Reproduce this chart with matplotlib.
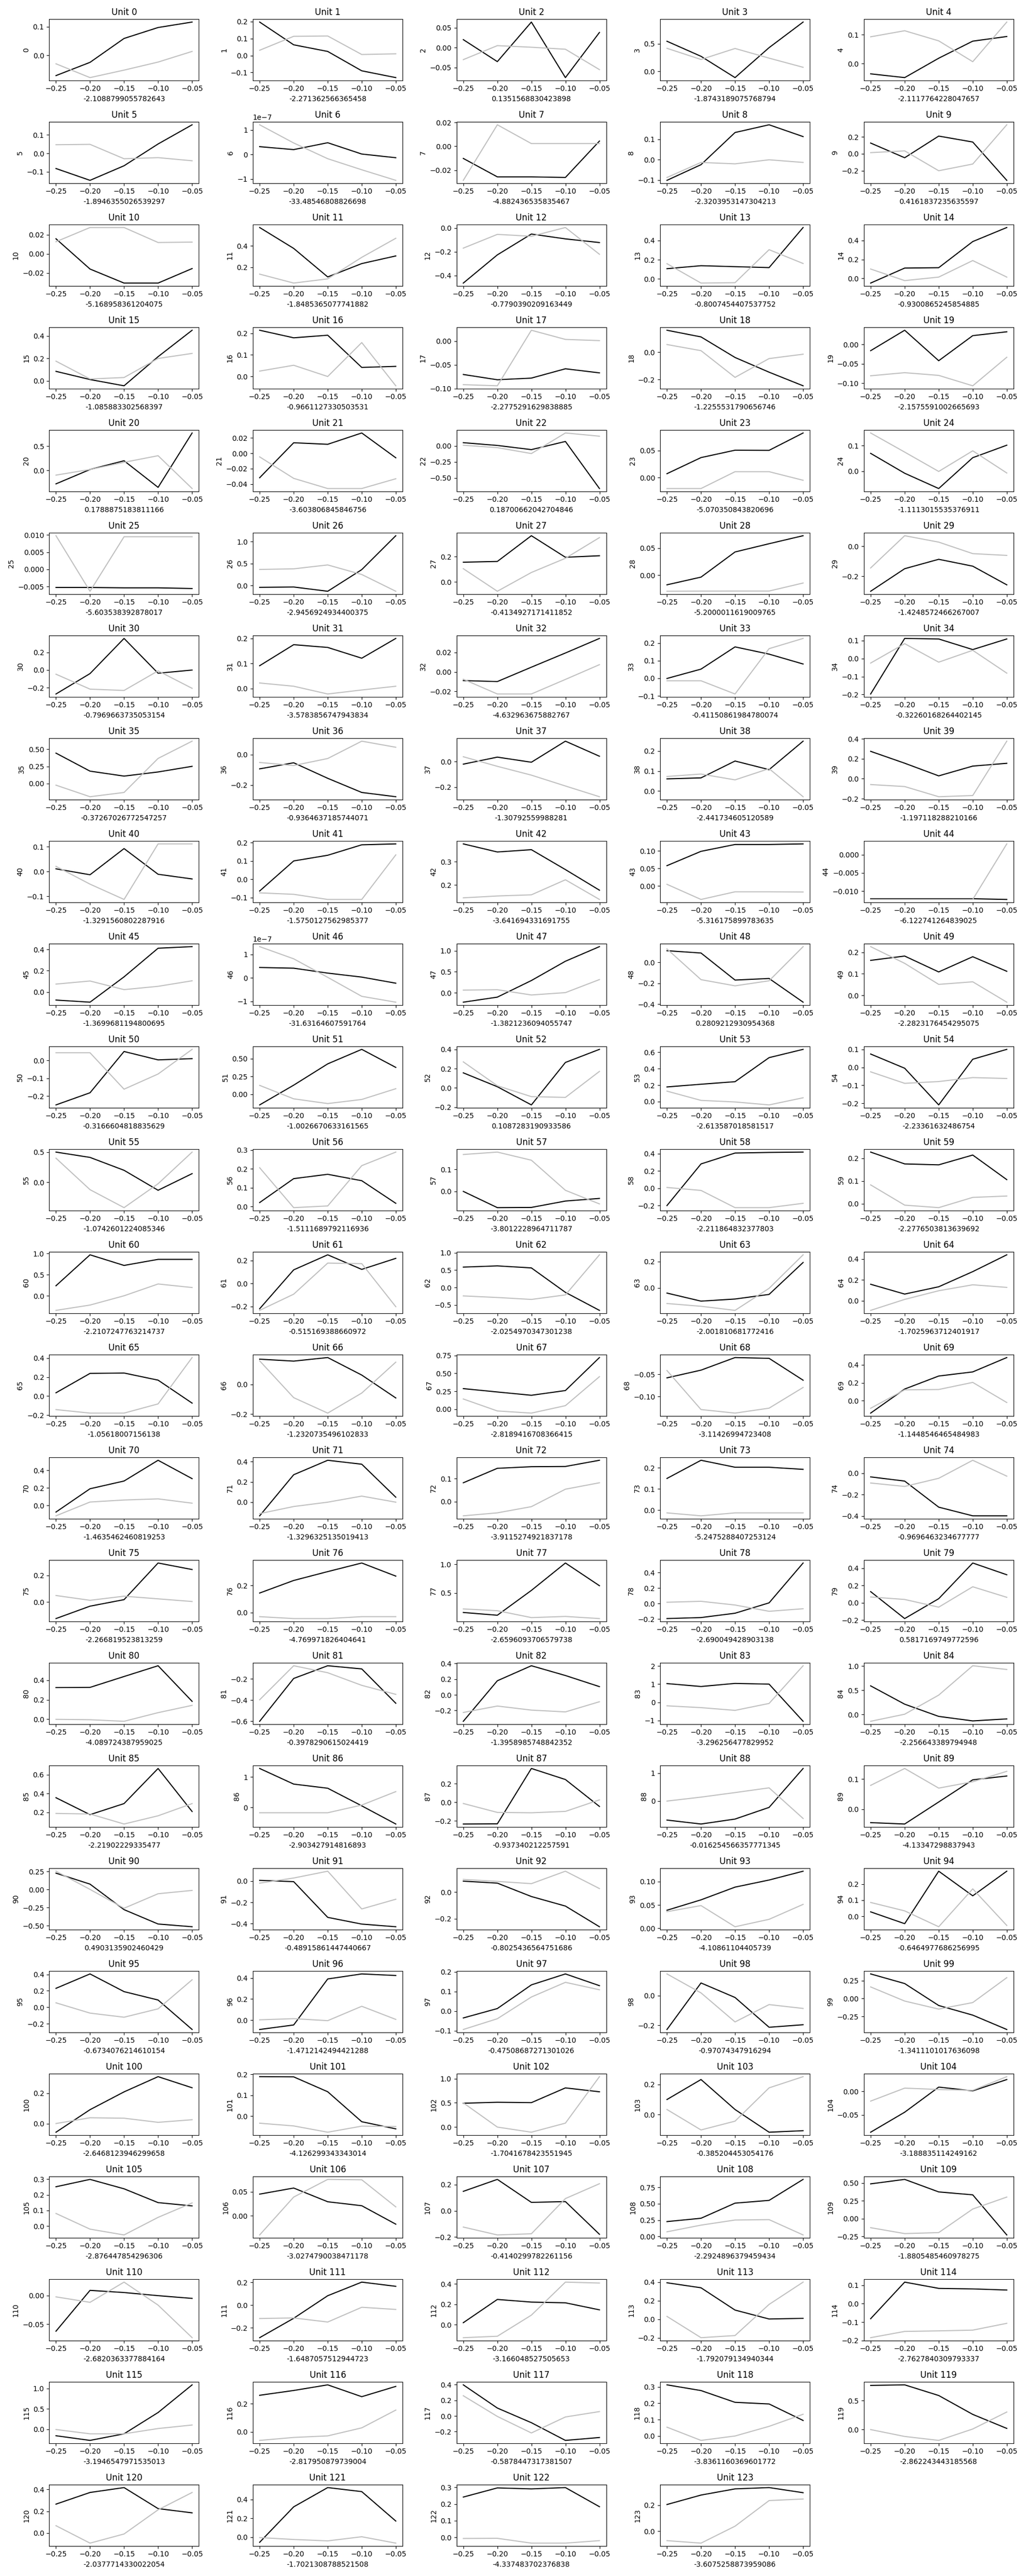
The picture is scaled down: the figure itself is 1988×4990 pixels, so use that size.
import numpy as np
import matplotlib
matplotlib.use('Agg')
import matplotlib.pyplot as plt

x = [-0.25, -0.2, -0.15, -0.1, -0.05]

black = [
    [-0.070, -0.024, 0.059, 0.097, 0.116],
    [0.197, 0.063, 0.024, -0.090, -0.130],
    [0.020, -0.035, 0.064, -0.075, 0.038],
    [0.546, 0.273, -0.113, 0.430, 0.894],
    [-0.035, -0.048, 0.019, 0.078, 0.094],
    [-0.082, -0.146, -0.067, 0.051, 0.155],
    [0.32e-7, 0.20e-7, 0.48e-7, 0.02e-7, -0.13e-7],
    [-0.0101, -0.0255, -0.0255, -0.0260, 0.0044],
    [-0.102, -0.025, 0.133, 0.171, 0.113],
    [0.127, -0.046, 0.209, 0.139, -0.312],
    [0.0157, -0.0160, -0.0307, -0.0307, -0.0155],
    [0.570, 0.376, 0.111, 0.235, 0.306],
    [-0.464, -0.226, -0.050, -0.091, -0.122],
    [0.107, 0.138, 0.128, 0.118, 0.536],
    [-0.049, 0.109, 0.113, 0.388, 0.536],
    [0.085, 0.012, -0.044, 0.216, 0.452],
    [0.214, 0.179, 0.191, 0.042, 0.047],
    [-0.0704, -0.0815, -0.0780, -0.0584, -0.0670],
    [0.162, 0.113, -0.038, -0.146, -0.246],
    [-0.016, 0.037, -0.042, 0.023, 0.033],
    [-0.276, 0.020, 0.200, -0.348, 0.772],
    [-0.0317, 0.0137, 0.0117, 0.0264, -0.0058],
    [0.049, 0.006, -0.059, 0.068, -0.664],
    [0.0072, 0.0370, 0.0507, 0.0504, 0.0826],
    [0.070, -0.008, -0.068, 0.053, 0.102],
    [-0.0053, -0.0053, -0.0054, -0.0054, -0.0056],
    [-0.044, -0.036, -0.133, 0.360, 1.133],
    [0.155, 0.161, 0.364, 0.194, 0.206],
    [-0.0178, -0.0036, 0.0428, 0.0580, 0.0728],
    [-0.301, -0.150, -0.087, -0.133, -0.258],
    [-0.271, -0.040, 0.358, -0.036, 0.000],
    [0.091, 0.175, 0.164, 0.121, 0.200],
    [-0.0089, -0.0099, 0.0049, 0.0195, 0.0345],
    [-0.001, 0.052, 0.178, 0.137, 0.081],
    [-0.197, 0.112, 0.109, 0.050, 0.109],
    [0.443, 0.181, 0.109, 0.169, 0.251],
    [-0.094, -0.054, -0.156, -0.249, -0.277],
    [-0.020, 0.035, -0.005, 0.160, 0.042],
    [0.061, 0.066, 0.150, 0.107, 0.249],
    [0.274, 0.155, 0.028, 0.126, 0.154],
    [0.011, -0.013, 0.093, -0.011, -0.030],
    [-0.064, 0.100, 0.131, 0.188, 0.193],
    [0.377, 0.342, 0.352, 0.266, 0.177],
    [0.0579, 0.0989, 0.1185, 0.1185, 0.1202],
    [-0.0121, -0.0121, -0.0121, -0.0121, -0.0123],
    [-0.076, -0.096, 0.142, 0.411, 0.426],
    [0.44e-7, 0.41e-7, 0.20e-7, 0.03e-7, -0.23e-7],
    [-0.222, -0.102, 0.292, 0.750, 1.097],
    [0.111, 0.089, -0.169, -0.154, -0.380],
    [0.163, 0.183, 0.109, 0.180, 0.112],
    [-0.249, -0.181, 0.050, 0.003, 0.010],
    [-0.152, 0.127, 0.428, 0.633, 0.378],
    [0.156, 0.012, -0.177, 0.264, 0.400],
    [0.178, 0.211, 0.242, 0.535, 0.636],
    [0.074, -0.005, -0.209, 0.045, 0.100],
    [0.500, 0.412, 0.199, -0.131, 0.144],
    [0.021, 0.148, 0.171, 0.137, 0.017],
    [0.000, -0.074, -0.073, -0.044, -0.032],
    [-0.200, 0.281, 0.407, 0.414, 0.418],
    [0.227, 0.175, 0.171, 0.214, 0.106],
    [0.238, 0.972, 0.720, 0.864, 0.864],
    [-0.221, 0.118, 0.249, 0.122, 0.218],
    [0.585, 0.620, 0.562, -0.140, -0.657],
    [-0.039, -0.100, -0.084, -0.049, 0.193],
    [0.158, 0.064, 0.134, 0.279, 0.440],
    [0.035, 0.239, 0.243, 0.168, -0.074],
    [0.169, 0.156, 0.180, 0.062, -0.092],
    [0.287, 0.240, 0.194, 0.260, 0.721],
    [-0.0580, -0.0407, -0.0124, -0.0142, -0.0633],
    [-0.138, 0.130, 0.275, 0.321, 0.481],
    [-0.074, 0.191, 0.279, 0.515, 0.306],
    [-0.135, 0.271, 0.414, 0.375, 0.049],
    [0.082, 0.145, 0.152, 0.153, 0.180],
    [0.150, 0.236, 0.203, 0.203, 0.193],
    [-0.035, -0.074, -0.317, -0.398, -0.398],
    [-0.124, -0.031, 0.018, 0.293, 0.244],
    [0.144, 0.236, 0.301, 0.364, 0.268],
    [0.158, 0.110, 0.543, 1.021, 0.625],
    [-0.193, -0.180, -0.124, 0.010, 0.525],
    [0.130, -0.182, 0.048, 0.461, 0.325],
    [0.325, 0.327, 0.439, 0.550, 0.183],
    [-0.600, -0.196, -0.076, -0.106, -0.430],
    [-0.338, 0.180, 0.372, 0.247, 0.105],
    [1.03, 0.87, 1.04, 1.00, -1.04],
    [0.589, 0.211, -0.041, -0.134, -0.093],
    [0.356, 0.177, 0.294, 0.665, 0.210],
    [1.279, 0.766, 0.630, 0.052, -0.545],
    [-0.234, -0.232, 0.364, 0.245, -0.045],
    [-0.681, -0.823, -0.645, -0.227, 1.170],
    [-0.0444, -0.0490, 0.0240, 0.0974, 0.1100],
    [0.228, 0.076, -0.277, -0.476, -0.514],
    [0.006, -0.006, -0.341, -0.404, -0.429],
    [0.083, 0.068, -0.033, -0.105, -0.261],
    [0.0387, 0.0610, 0.0882, 0.1034, 0.1223],
    [0.028, -0.045, 0.279, 0.127, 0.279],
    [0.230, 0.405, 0.190, 0.088, -0.270],
    [-0.090, -0.047, 0.391, 0.439, 0.424],
    [-0.035, 0.013, 0.134, 0.190, 0.130],
    [-0.228, 0.086, -0.012, -0.213, -0.196],
    [0.342, 0.208, -0.098, -0.232, -0.432],
    [-0.057, 0.091, 0.208, 0.308, 0.235],
    [0.189, 0.188, 0.117, -0.026, -0.060],
    [0.492, 0.512, 0.504, 0.811, 0.730],
    [0.100, 0.232, 0.034, -0.116, -0.106],
    [-0.0872, -0.0445, 0.0091, 0.0011, 0.0252],
    [0.251, 0.298, 0.238, 0.150, 0.129],
    [0.0451, 0.0577, 0.0293, 0.0211, -0.0171],
    [0.148, 0.239, 0.064, 0.070, -0.179],
    [0.228, 0.279, 0.510, 0.552, 0.873],
    [0.488, 0.551, 0.375, 0.334, -0.229],
    [-0.0624, 0.0093, 0.0055, 0.0000, -0.0048],
    [-0.287, -0.116, 0.083, 0.203, 0.166],
    [0.019, 0.247, 0.221, 0.214, 0.145],
    [0.394, 0.340, 0.100, 0.004, 0.011],
    [-0.082, 0.117, 0.083, 0.080, 0.074],
    [-0.157, -0.271, -0.110, 0.410, 1.086],
    [0.260, 0.294, 0.334, 0.250, 0.323],
    [0.398, 0.102, -0.085, -0.311, -0.274],
    [0.313, 0.278, 0.206, 0.196, 0.095],
    [0.762, 0.772, 0.588, 0.262, 0.020],
    [0.265, 0.372, 0.417, 0.224, 0.185],
    [-0.055, 0.322, 0.527, 0.484, 0.171],
    [0.242, 0.297, 0.291, 0.299, 0.184],
    [0.204, 0.276, 0.323, 0.333, 0.294],
]

gray = [
    [-0.029, -0.077, -0.051, -0.023, 0.014],
    [0.031, 0.113, 0.115, 0.006, 0.010],
    [-0.030, 0.005, 0.001, -0.004, -0.055],
    [0.418, 0.216, 0.415, 0.240, 0.074],
    [0.093, 0.114, 0.079, 0.007, 0.144],
    [0.047, 0.049, -0.029, -0.023, -0.040],
    [1.21e-7, 0.47e-7, -0.17e-7, -0.62e-7, -1.05e-7],
    [-0.0284, 0.0180, 0.0023, 0.0023, 0.0023],
    [-0.088, -0.014, -0.021, -0.001, -0.014],
    [0.014, 0.035, -0.199, -0.120, 0.342],
    [0.0126, 0.0275, 0.0275, 0.0118, 0.0122],
    [0.137, 0.054, 0.093, 0.293, 0.470],
    [-0.169, -0.053, -0.069, 0.005, -0.221],
    [0.159, -0.043, -0.039, 0.305, 0.161],
    [0.099, -0.023, 0.014, 0.188, 0.014],
    [0.176, 0.017, 0.030, 0.200, 0.245],
    [0.025, 0.052, 0.000, 0.157, -0.043],
    [-0.0918, -0.0942, 0.0226, 0.0033, 0.0008],
    [0.057, 0.012, -0.184, -0.046, -0.014],
    [-0.081, -0.073, -0.080, -0.107, -0.033],
    [-0.096, 0.020, 0.168, 0.304, -0.372],
    [-0.0046, -0.0325, -0.0457, -0.0457, -0.0330],
    [0.009, -0.028, -0.120, 0.200, 0.150],
    [-0.0203, -0.0203, 0.0109, 0.0109, -0.0050],
    [0.150, 0.075, -0.001, 0.080, -0.007],
    [0.0098, -0.0064, 0.0095, 0.0095, 0.0095],
    [0.364, 0.378, 0.467, 0.249, -0.133],
    [0.104, -0.074, 0.074, 0.186, 0.349],
    [-0.0297, -0.0294, -0.0293, -0.0293, -0.0145],
    [-0.145, 0.071, 0.028, -0.049, -0.061],
    [-0.047, -0.216, -0.231, -0.009, -0.207],
    [0.022, 0.009, -0.022, -0.006, 0.009],
    [-0.0075, -0.0227, -0.0227, -0.0077, 0.0075],
    [-0.014, -0.014, -0.089, 0.168, 0.226],
    [-0.025, 0.083, -0.020, 0.046, -0.081],
    [-0.023, -0.191, -0.129, 0.366, 0.617],
    [-0.052, -0.072, -0.026, 0.088, 0.048],
    [0.038, -0.037, -0.106, -0.191, -0.275],
    [0.073, 0.085, 0.056, 0.112, -0.028],
    [-0.059, -0.079, -0.181, -0.169, 0.376],
    [0.021, -0.051, -0.113, 0.112, 0.112],
    [-0.074, -0.082, -0.110, -0.110, 0.133],
    [0.144, 0.152, 0.157, 0.222, 0.137],
    [0.0045, -0.0388, -0.0169, -0.0169, -0.0174],
    [-0.0123, -0.0123, -0.0123, -0.0123, 0.0030],
    [0.074, 0.103, 0.022, 0.053, 0.105],
    [1.33e-7, 0.81e-7, 0.02e-7, -0.79e-7, -1.04e-7],
    [0.065, 0.074, -0.051, 0.005, 0.315],
    [0.128, -0.165, -0.224, -0.176, 0.150],
    [0.227, 0.149, 0.051, 0.063, -0.032],
    [0.043, 0.043, -0.161, -0.076, 0.062],
    [0.124, -0.066, -0.133, -0.075, 0.077],
    [0.270, 0.022, -0.091, -0.099, 0.171],
    [0.127, 0.014, -0.005, -0.041, 0.046],
    [-0.025, -0.089, -0.079, -0.057, -0.062],
    [0.399, -0.121, -0.418, -0.023, 0.500],
    [0.206, -0.006, 0.003, 0.217, 0.289],
    [0.168, 0.179, 0.142, 0.005, -0.057],
    [0.009, -0.025, -0.224, -0.224, -0.174],
    [0.083, -0.006, -0.017, 0.028, 0.034],
    [-0.346, -0.220, 0.000, 0.280, 0.196],
    [-0.235, -0.094, 0.177, 0.172, -0.203],
    [-0.242, -0.287, -0.343, -0.213, 0.938],
    [-0.118, -0.139, -0.170, -0.003, 0.251],
    [-0.092, 0.013, 0.096, 0.153, 0.128],
    [-0.142, -0.179, -0.179, -0.082, 0.406],
    [0.158, -0.090, -0.194, -0.059, 0.149],
    [0.142, -0.025, -0.055, 0.049, 0.454],
    [-0.0416, -0.1292, -0.1372, -0.1261, -0.0796],
    [-0.084, 0.121, 0.125, 0.204, -0.020],
    [-0.117, 0.040, 0.063, 0.076, 0.027],
    [-0.113, -0.043, 0.000, 0.060, 0.000],
    [-0.062, -0.049, -0.022, 0.054, 0.082],
    [-0.013, -0.027, -0.013, -0.013, -0.013],
    [-0.092, -0.124, -0.048, 0.120, -0.028],
    [0.049, 0.013, 0.044, 0.024, 0.004],
    [-0.029, -0.043, -0.043, -0.029, -0.029],
    [0.220, 0.189, 0.069, 0.089, 0.052],
    [0.018, 0.030, -0.018, -0.099, -0.066],
    [0.068, 0.039, -0.050, 0.186, 0.064],
    [-0.002, -0.006, -0.022, 0.067, 0.142],
    [-0.397, -0.076, -0.142, -0.261, -0.346],
    [-0.225, -0.143, -0.195, -0.218, -0.088],
    [-0.19, -0.29, -0.44, -0.06, 2.01],
    [-0.142, 0.004, 0.398, 1.004, 0.927],
    [0.190, 0.184, 0.078, 0.165, 0.294],
    [-0.175, -0.175, -0.175, 0.078, 0.519],
    [-0.013, -0.109, -0.113, -0.098, 0.026],
    [0.000, 0.142, 0.305, 0.475, -0.624],
    [0.0790, 0.1350, 0.0699, 0.0910, 0.1255],
    [0.255, 0.003, -0.258, -0.057, -0.011],
    [-0.020, 0.028, 0.092, -0.262, -0.171],
    [0.096, 0.081, 0.064, 0.158, 0.027],
    [0.0357, 0.0487, 0.0034, 0.0193, 0.0513],
    [0.086, 0.034, -0.064, 0.170, -0.056],
    [0.054, -0.071, -0.121, -0.019, 0.334],
    [0.002, 0.013, -0.006, 0.131, 0.006],
    [-0.094, -0.039, 0.072, 0.147, 0.109],
    [0.147, 0.019, -0.177, -0.060, -0.086],
    [0.161, -0.036, -0.148, -0.057, 0.290],
    [0.000, 0.038, 0.035, 0.008, 0.025],
    [-0.033, -0.046, -0.076, -0.047, -0.049],
    [0.500, -0.004, -0.111, 0.078, 1.045],
    [0.034, -0.101, -0.043, 0.177, 0.251],
    [-0.0208, 0.0069, 0.0040, 0.0022, 0.0314],
    [0.081, -0.019, -0.056, 0.056, 0.148],
    [-0.0394, 0.0390, 0.0756, 0.0748, 0.0187],
    [-0.124, -0.184, -0.175, 0.093, 0.206],
    [0.072, 0.174, 0.252, 0.258, 0.024],
    [-0.127, -0.210, -0.196, 0.135, 0.303],
    [-0.0021, -0.0117, 0.0238, -0.0166, -0.0738],
    [-0.118, -0.113, -0.149, -0.019, -0.038],
    [-0.128, -0.114, 0.093, 0.417, 0.408],
    [0.032, -0.197, -0.174, 0.161, 0.401],
    [-0.185, -0.151, -0.148, -0.144, -0.107],
    [-0.005, -0.110, -0.110, 0.019, 0.105],
    [-0.060, -0.039, -0.028, 0.029, 0.155],
    [0.259, -0.005, -0.216, -0.012, 0.057],
    [0.054, -0.027, 0.000, 0.059, 0.133],
    [0.000, -0.119, -0.187, 0.010, 0.303],
    [0.067, -0.093, -0.009, 0.213, 0.372],
    [-0.005, -0.025, -0.040, 0.004, -0.064],
    [-0.007, -0.006, -0.035, -0.035, -0.020],
    [-0.071, -0.090, 0.039, 0.234, 0.246],
]

xlabels = [
    '-2.1088799055782643', '-2.271362566365458', '0.1351568830423898', '-1.8743189075768794', '-2.1117764228047657',
    '-1.8946355026539297', '-33.48546808826698', '-4.882436535835467', '-2.3203953147304213', '0.4161837235635597',
    '-5.168958361204075', '-1.8485365077741882', '-0.7790390209163449', '-0.8007454407537752', '-0.9300865245854885',
    '-1.085883302568397', '-0.9661127330503531', '-2.2775291629838885', '-1.2255531790656746', '-2.1575591002665693',
    '0.1788875183811166', '-3.603806845846756', '0.18700662042704846', '-5.070350843820696', '-1.1113015535376911',
    '-5.603538392878017', '-2.9456924934400375', '-0.4134927171411852', '-5.2000011619009765', '-1.4248572466267007',
    '-0.7969663735053154', '-3.5783856747943834', '-4.632963675882767', '-0.41150861984780074', '-0.32260168264402145',
    '-0.37267026772547257', '-0.9364637185744071', '-1.30792559988281', '-2.441734605120589', '-1.197118288210166',
    '-1.3291560802287916', '-1.5750127562985377', '-3.641694331691755', '-5.316175899783635', '-6.122741264839025',
    '-1.3699681194800695', '-31.63164607591764', '-1.3821236094055747', '0.2809212930954368', '-2.2823176454295075',
    '-0.3166604818835629', '-1.0026670633161565', '0.1087283190933586', '-2.613587018581517', '-2.23361632486754',
    '-1.0742601224085346', '-1.5111689792116936', '-3.8012228964711787', '-2.211864832377803', '-2.2776503813639692',
    '-2.2107247763214737', '-0.515169388660972', '-2.0254970347301238', '-2.001810681772416', '-1.7025963712401917',
    '-1.05618007156138', '-1.2320735496102833', '-2.8189416708366415', '-3.11426994723408', '-1.1448546465484983',
    '-1.4635462460819253', '-1.3296325135019413', '-3.9115274921837178', '-5.2475288407253124', '-0.9696463234677777',
    '-2.266819523813259', '-4.769971826404641', '-2.6596093706579738', '-2.690049428903138', '0.5817169749772596',
    '-4.089724387959025', '-0.3978290615024419', '-1.3958985748842352', '-3.296256477829952', '-2.256643389794948',
    '-2.21902229335477', '-2.903427914816893', '-0.937340212257591', '-0.016254566357771345', '-4.13347298837943',
    '0.4903135902460429', '-0.48915861447440667', '-0.8025436564751686', '-4.10861104405739', '-0.6464977686256995',
    '-0.6734076214610154', '-1.4712142494421288', '-0.47508687271301026', '-0.97074347916294', '-1.3411101017636098',
    '-2.6468123946299658', '-4.126299343343014', '-1.7041678423551945', '-0.385204453054176', '-3.188835114249162',
    '-2.876447854296306', '-3.0274790038471178', '-0.4140299782261156', '-2.2924896379459434', '-1.8805485460978275',
    '-2.6820363377884164', '-1.6487057512944723', '-3.166048527505653', '-1.792079134940344', '-2.7627840309793337',
    '-3.1946547971535013', '-2.817950879739004', '-0.5878447317381507', '-3.8361160369601772', '-2.862243443185568',
    '-2.0377714330022054', '-1.7021308788521508', '-4.337483702376838', '-3.6075258873959086',
]

fig, axes = plt.subplots(25, 5, figsize=(19.88, 49.9), dpi=100)
axes = axes.flatten()

for i in range(len(black)):
    ax = axes[i]
    ax.plot(x, black[i], color='k', lw=1.5)
    ax.plot(x, gray[i], color='silver', lw=1.5)
    ax.set_title('Unit %d' % i)
    ax.set_ylabel(str(i))
    ax.set_xlabel(xlabels[i])
    ax.set_xticks(x)

# last slot of the grid stays empty
for j in range(len(black), len(axes)):
    fig.delaxes(axes[j])

plt.tight_layout()
plt.savefig('out.png', dpi=100)
